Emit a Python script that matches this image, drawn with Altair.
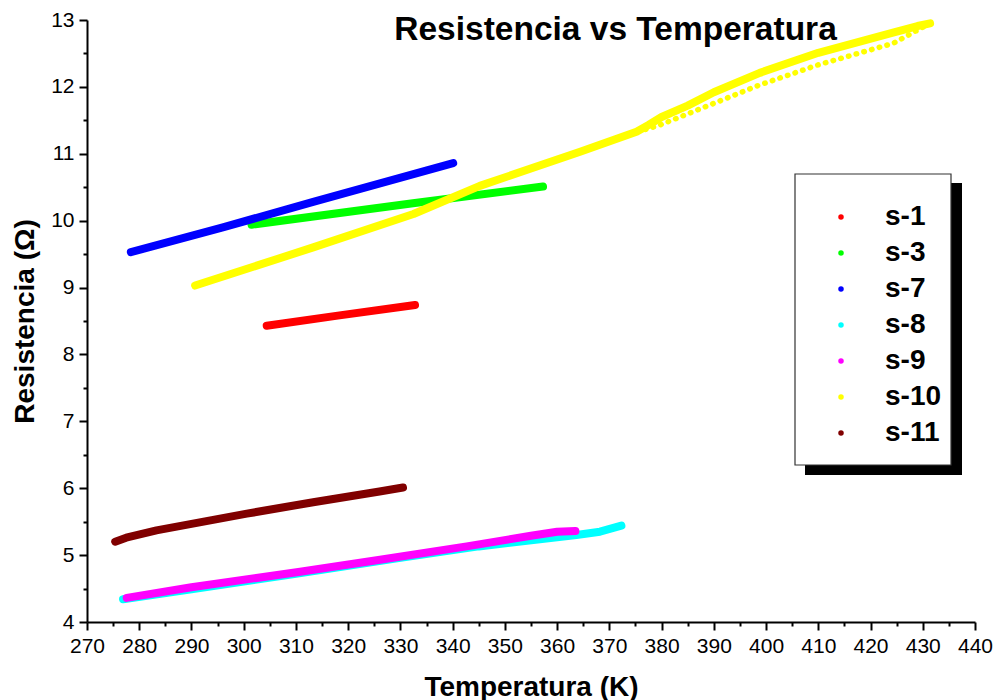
import altair as alt
import pandas as pd

series_names = ["s-1", "s-3", "s-7", "s-8", "s-9", "s-10", "s-11"]
series_colors = ["#FF0000", "#00FF00", "#0000FF", "#00FFFF", "#FF00FF", "#FFFF00", "#800000"]

s1_temp = [304.4, 318.0, 332.8]
s1_res = [8.43, 8.58, 8.74]
s3_temp = [301.5, 332.4, 357.3]
s3_res = [9.94, 10.26, 10.51]
s7_temp = [278.4, 296.0, 313.3, 340.1]
s7_res = [9.53, 9.90, 10.28, 10.86]
s8_temp = [276.9, 290.0, 310.0, 330.0, 345.0, 363.7, 368.2, 372.3]
s8_res = [4.34, 4.49, 4.72, 4.96, 5.13, 5.30, 5.35, 5.44]
s9_temp = [277.6, 290.0, 310.8, 326.1, 342.7, 355.0, 360.0, 363.5]
s9_res = [4.36, 4.52, 4.75, 4.93, 5.13, 5.29, 5.35, 5.36]
s10_up_temp = [290.7, 313.3, 332.5, 345.2, 364.4, 375.2, 377.5, 380.0, 385.0, 390.0,
               398.8, 410.0, 424.3, 429.0, 431.4]
s10_up_res = [9.03, 9.60, 10.10, 10.52, 11.03, 11.33, 11.43, 11.55, 11.72, 11.92,
              12.21, 12.51, 12.81, 12.91, 12.95]
s10_down_temp = [431.4, 424.3, 410.0, 398.8, 379.7, 372.0]
s10_down_res = [12.95, 12.65, 12.33, 12.03, 11.43, 11.25]
s11_temp = [275.4, 277.5, 283.3, 300.6, 313.3, 326.0, 330.5]
s11_res = [5.20, 5.26, 5.37, 5.62, 5.79, 5.95, 6.01]

x_ticks = list(range(270, 445, 5))
y_ticks = [v / 2 for v in range(8, 27)]

def frame(name, temps, res, branch="up"):
    return pd.DataFrame({"serie": name, "T": temps, "R": res,
                         "orden": list(range(len(temps))), "rama": branch})

main = pd.concat([
    frame("s-1", s1_temp, s1_res),
    frame("s-3", s3_temp, s3_res),
    frame("s-7", s7_temp, s7_res),
    frame("s-8", s8_temp, s8_res),
    frame("s-9", s9_temp, s9_res),
    frame("s-10", s10_up_temp, s10_up_res),
    frame("s-11", s11_temp, s11_res),
], ignore_index=True)
down = frame("s-10", s10_down_temp, s10_down_res, "down")

FONT = "Liberation Sans"

x_enc = alt.X("T:Q", scale=alt.Scale(domain=[270, 440], nice=False, zero=False),
              axis=alt.Axis(values=x_ticks, title="Temperatura (K)", labelOverlap=False,
                            labelFlush=False,
                            labelExpr="datum.value % 10 === 0 ? format(datum.value, 'd') : ''",
                            tickSize={"condition": {"test": "datum.value % 10 === 0", "value": 8}, "value": 4}))
y_enc = alt.Y("R:Q", scale=alt.Scale(domain=[4, 13], nice=False, zero=False),
              axis=alt.Axis(values=y_ticks, title="Resistencia (\u03a9)", labelOverlap=False,
                            labelFlush=False,
                            labelExpr="datum.value % 1 === 0 ? format(datum.value, 'd') : ''",
                            tickSize={"condition": {"test": "datum.value % 1 === 0", "value": 8}, "value": 4}))
color_scale = alt.Scale(domain=series_names, range=series_colors)

pts = alt.Chart(main).mark_circle(size=30, opacity=1).encode(
    x=x_enc, y=y_enc,
    color=alt.Color("serie:N", scale=color_scale,
                    legend=alt.Legend(title=None,
                                      orient="none", legendX=740, legendY=183,
                                      symbolType="circle", symbolSize=30,
                                      labelFont=FONT, labelFontSize=28, labelFontWeight="bold",
                                      labelColor="black", rowPadding=8, padding=0,
                                      symbolOffset=0, labelOffset=30,
                                      symbolStrokeWidth=0))
)

lines = alt.Chart(main).mark_line(strokeWidth=8, strokeCap="round", strokeJoin="round").encode(
    x=x_enc, y=y_enc, color=alt.Color("serie:N", scale=color_scale), order="orden:Q"
)

dotted = alt.Chart(down).mark_line(strokeWidth=5.5, strokeCap="round", strokeDash=[0.5, 7.5]).encode(
    x=x_enc, y=y_enc, color=alt.Color("serie:N", scale=color_scale), order="orden:Q"
)

deco = pd.DataFrame({"k": [1]})
shadow = alt.Chart(deco).mark_rect(color="black").encode(
    x=alt.value(718), x2=alt.value(875), y=alt.value(163), y2=alt.value(455)
)
box = alt.Chart(deco).mark_rect(fill="white", stroke="#333333", strokeWidth=1.2).encode(
    x=alt.value(708), x2=alt.value(864), y=alt.value(154), y2=alt.value(445)
)
title = alt.Chart(deco).mark_text(text="Resistencia vs Temperatura", font=FONT, fontSize=33.5,
                                  fontWeight="bold", color="black", baseline="alphabetic",
                                  align="center").encode(
    x=alt.value(528.5), y=alt.value(20)
)

chart = alt.layer(shadow, box, pts, lines, dotted, title).properties(
    width=888, height=602,
    padding={"left": 87, "top": 20, "right": 20, "bottom": 78},
    autosize=alt.AutoSizeParams(type="none"),
).configure_view(stroke=None).configure_axis(
    grid=False, domainColor="black", domainWidth=2, tickColor="black", tickWidth=2,
    labelFont=FONT, labelFontSize=21, labelColor="black", labelPadding=5,
    titleFont=FONT, titleFontSize=28, titleFontWeight="bold", titleColor="black",
).configure_axisX(titlePadding=17).configure_axisY(titlePadding=11)

chart.save("out.html", embed_options={"renderer": "svg", "actions": False})
